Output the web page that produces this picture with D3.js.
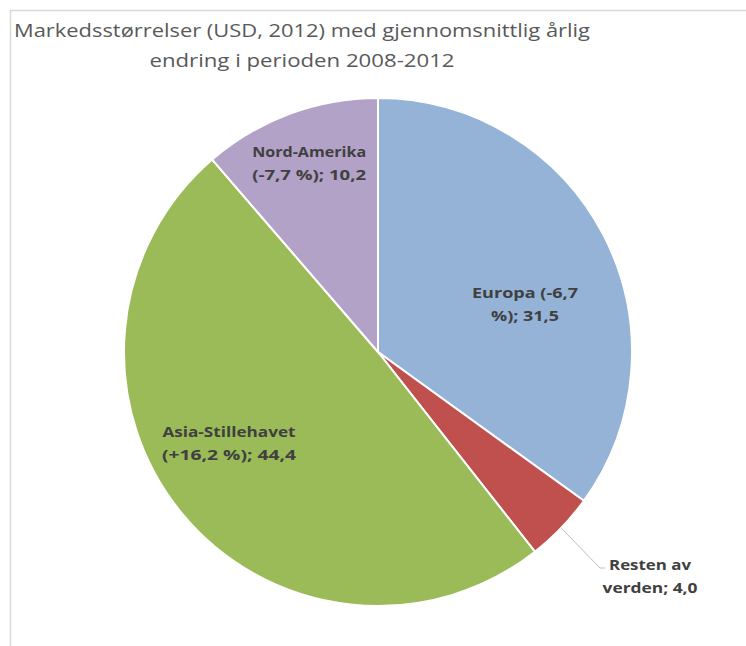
<!DOCTYPE html>
<html>
<head>
<meta charset="utf-8">
<script src="https://cdn.jsdelivr.net/npm/d3@7"></script>
<style>
  body { margin: 0; background: #fff; }
  svg { display: block; font-family: "Open Sans", "DejaVu Sans", sans-serif; }
</style>
</head>
<body>
<svg id="chart" width="746" height="646"></svg>
<script>
const regions = ["Europa", "Resten av verden", "Asia-Stillehavet", "Nord-Amerika"];
const sizes = [31.5, 4.0, 44.4, 10.2];
const labelLines = [
  ["Europa (-6,7", "%); 31,5"],
  ["Resten av", "verden; 4,0"],
  ["Asia-Stillehavet", "(+16,2 %); 44,4"],
  ["Nord-Amerika", "(-7,7 %); 10,2"]
];
const colors = ["#95b3d7", "#c0504d", "#9bbb59", "#b3a2c7"];
const titleLines = ["Markedsstørrelser (USD, 2012) med gjennomsnittlig årlig", "endring i perioden 2008-2012"];

const width = 746, height = 646;
const cx = 378, cy = 352, radius = 254;

const svg = d3.select("#chart");

// chart frame
svg.append("rect")
  .attr("x", 10.5).attr("y", 10.5)
  .attr("width", width + 20).attr("height", height + 20)
  .attr("fill", "none")
  .attr("stroke", "#d9d9d9")
  .attr("stroke-width", 1.5);

// title
const title = svg.append("text")
  .attr("text-anchor", "middle")
  .attr("fill", "#595959")
  .style("font-size", "19px");
title.selectAll("tspan")
  .data(titleLines)
  .join("tspan")
  .attr("x", 302)
  .attr("y", (d, i) => 37 + i * 30)
  .attr("textLength", (d, i) => i === 0 ? 576 : 305)
  .attr("lengthAdjust", "spacingAndGlyphs")
  .text(d => d);

const data = regions.map((r, i) => ({ region: r, value: sizes[i], lines: labelLines[i], color: colors[i] }));

const pie = d3.pie().sort(null).value(d => d.value);
const arc = d3.arc().innerRadius(0).outerRadius(radius);
const arcs = pie(data);

const g = svg.append("g").attr("transform", `translate(${cx},${cy})`);

g.selectAll("path")
  .data(arcs)
  .join("path")
  .attr("d", arc)
  .attr("fill", d => d.data.color)
  .attr("stroke", "#fff")
  .attr("stroke-width", 2);

// label placement: radius fraction along the slice's mid angle, plus a manual nudge
const labelPos = [
  { r: 0.65, dx: 0, dy: 26 },
  { r: 1.2, dx: 0, dy: 0 },
  { r: 0.76, dx: 0, dy: -33 },
  { r: 0.79, dx: 1, dy: -2 }
];

const textWidths = [
  [106, 68],
  [82, 95],
  [133, 134],
  [114, 114]
];

arcs.forEach((a, i) => {
  const mid = (a.startAngle + a.endAngle) / 2;
  const p = labelPos[i];
  let x = Math.sin(mid) * radius * p.r + p.dx;
  let y = -Math.cos(mid) * radius * p.r + p.dy;
  if (i === 1) {
    // leader line for the small slice, label sits off to the lower right
    const ex = Math.sin(mid) * radius, ey = -Math.cos(mid) * radius;
    const lx = 222, ly = 216;
    g.append("polyline")
      .attr("points", `${ex},${ey} ${lx},${ly} ${lx + 5},${ly}`)
      .attr("fill", "none")
      .attr("stroke", "#bfbfbf")
      .attr("stroke-width", 1);
    x = lx + 50; y = ly + 7;
  }
  const t = g.append("text")
    .attr("text-anchor", "middle")
    .attr("fill", "#404040")
    .style("font-size", "15px")
    .style("font-weight", "bold");
  t.selectAll("tspan")
    .data(a.data.lines)
    .join("tspan")
    .attr("x", x)
    .attr("y", (d, j) => y - 5 + j * 23)
    .attr("textLength", (d, j) => textWidths[i][j])
    .attr("lengthAdjust", "spacingAndGlyphs")
    .text(d => d);
});
</script>
</body>
</html>
